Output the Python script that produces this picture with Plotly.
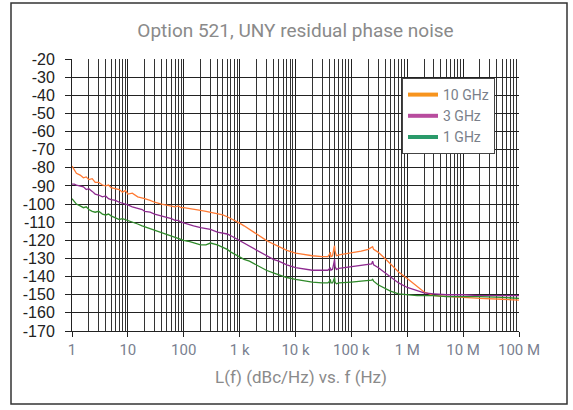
import plotly.graph_objects as go

freq = [1, 1.1, 1.2, 1.4, 1.6, 1.8, 2, 2.3, 2.6, 3, 3.5, 4, 4.5, 5, 6, 7, 8, 9,
        10, 12, 15, 18, 20, 25, 30, 40, 50, 60, 70, 80, 90,
        100, 120, 150, 200, 250, 300, 400, 500, 600, 700, 800,
        1000, 1200, 1500, 2000, 2500, 3000, 4000, 5000, 7000,
        10000, 15000, 20000, 30000, 38000, 41000, 42000, 43000, 46000, 49000,
        50000, 51000, 54000, 60000, 80000,
        100000, 150000, 200000, 230000, 240000, 250000, 300000, 400000, 500000, 700000,
        1e6, 1.5e6, 2e6, 3e6, 5e6, 1e7, 2e7, 5e7, 1e8]

ghz10 = [-79, -81, -83, -84, -85.5, -85, -86.5, -86, -88, -88, -89.5, -90, -89.5, -91, -91.5, -92, -93.5, -92.5,
         -94.5, -94, -96, -96.5, -97, -98, -99, -100, -100.5, -101, -101.5, -101, -102,
         -102, -102.5, -103, -103.5, -104, -104.5, -105.5, -106, -107, -108, -109,
         -110.5, -112, -114, -116.5, -118.5, -120, -122, -123.5, -125.5,
         -127, -128, -128.5, -129, -129, -127.5, -126.5, -129, -128.5, -124,
         -123, -126, -128.5, -128, -127.5,
         -127, -126, -125, -124, -123.5, -125, -126.5, -130, -133, -137.5,
         -141, -145.5, -148.5, -150.5, -151, -151.5, -152, -152.5, -153]

ghz3 = [-89, -89, -89.5, -90, -90.5, -92, -91.5, -93, -94.5, -95, -96, -95.5, -97, -97.5, -98, -99, -99.5, -100,
        -100.5, -101.5, -102.5, -103, -104, -104.5, -105.5, -106.5, -107.5, -108, -109, -109, -110,
        -110.5, -111, -112, -113, -113.5, -114, -115.5, -116, -116.5, -117.5, -118.5,
        -120, -121.5, -123, -125.5, -127, -128.5, -130.5, -131.5, -133.5,
        -135, -136, -136.5, -136.5, -136.5, -135.5, -135, -136.5, -136, -132,
        -130.5, -134.5, -136, -135.5, -135,
        -134.5, -134, -133.5, -133, -131.5, -133.5, -135, -138, -140.5, -143.5,
        -146, -148, -149, -149.5, -150, -150, -150.5, -150.5, -150.5]

ghz1 = [-97, -98.5, -100, -101, -102, -101.5, -103, -104, -104.5, -104, -105.5, -106, -105.5, -106.5, -107.5, -108.5, -108, -108.5,
        -109, -110, -111, -112, -112.5, -113.5, -114.5, -116, -117, -117.5, -118.5, -119, -119.5,
        -120, -120.5, -121.5, -122.5, -122.5, -121.5, -122.5, -124, -125, -126.5, -127.5,
        -129, -130.5, -131.5, -133.5, -135, -136.5, -138, -139, -140.5,
        -141.5, -142.5, -143, -143.5, -143.5, -142.5, -141.5, -143.5, -143.5, -141.5,
        -140.5, -143, -144, -143.5, -143,
        -143, -142.5, -142, -142, -141.5, -142.5, -144.5, -146.5, -148, -149.5,
        -150, -150.5, -150.5, -150.5, -151, -151, -151, -151.5, -152]

series_names = ["10 GHz", "3 GHz", "1 GHz"]
line_colors = ["#FF7A33", "#8E2A90", "#2F8A2A"]
legend_colors = ["#F7941D", "#B84C9E", "#2A9A6A"]

major_ticks = [1, 10, 100, 1e3, 1e4, 1e5, 1e6, 1e7, 1e8]
major_labels = ["1", "10", "100", "1 k", "10 k", "100 k", "1 M", "10 M", "100 M"]
minor_ticks = [m * 10 ** e for e in range(8) for m in range(2, 10)]
y_ticks = list(range(-170, -19, 10))
y_labels = ["%d" % v for v in y_ticks]

fig = go.Figure()
for name, vals, lc in zip(series_names, [ghz10, ghz3, ghz1], line_colors):
    fig.add_trace(go.Scatter(x=freq, y=vals, mode="lines", name=name,
                             line=dict(color=lc, width=1.3), showlegend=False))
for name, lgc in zip(series_names, legend_colors):
    fig.add_trace(go.Scatter(x=[None], y=[None], mode="lines", name=name,
                             line=dict(color=lgc, width=4), showlegend=True))

fig.update_layout(
    width=573, height=410,
    margin=dict(l=72, r=54, t=59, b=79),
    paper_bgcolor="white", plot_bgcolor="white",
    title=dict(text="Option 521, UNY residual phase noise", x=0.5, xref="paper",
               y=1 - 30 / 410, yref="container", yanchor="middle",
               font=dict(family="Roboto", size=19, color="#8A8A8A")),
    legend=dict(x=(402 - 72) / 447, y=(331 - 78) / 272, xanchor="left", yanchor="top",
                bgcolor="white", bordercolor="#444", borderwidth=1,
                font=dict(family="Roboto", size=14, color="#7A7F8A"),
                tracegroupgap=0, itemwidth=30),
    xaxis=dict(type="log", range=[0, 8], tickmode="array", tickvals=major_ticks,
               ticktext=major_labels, ticks="outside", ticklen=5, tickcolor="#222",
               showgrid=True, gridcolor="#222", gridwidth=1,
               showline=True, linecolor="#222", linewidth=1,
               tickfont=dict(family="Roboto", size=15, color="#7A7F90"),
               minor=dict(tickmode="array", tickvals=minor_ticks, showgrid=True,
                          gridcolor="#333", gridwidth=1, ticks=""),
               zeroline=False),
    yaxis=dict(range=[-170, -20], tickmode="array", tickvals=y_ticks, ticktext=y_labels,
               ticks="outside", ticklen=6,
               tickcolor="#222", showgrid=True, gridcolor="#222", gridwidth=1,
               showline=True, linecolor="#222", linewidth=1,
               tickfont=dict(family="Liberation Sans", size=16, color="#222"),
               ticklabelstandoff=7, zeroline=False),
    shapes=[dict(type="rect", xref="paper", yref="paper",
                 x0=(11 - 72) / 447, x1=(567 - 72) / 447,
                 y0=(331 - 404) / 272, y1=(331 - 3) / 272,
                 line=dict(color="#333", width=1.5), layer="below")],
    annotations=[dict(text="L(f) (dBc/Hz) vs. f (Hz)", xref="paper", yref="paper",
                      x=(301 - 72) / 447, y=(331 - 377) / 272, showarrow=False,
                      xanchor="center", yanchor="middle",
                      font=dict(family="Roboto", size=17, color="#8A8A8A"))],
)

fig.write_html("out.html", config={"displayModeBar": False},
               post_script="document.body.style.margin='0';document.body.style.padding='0';")
